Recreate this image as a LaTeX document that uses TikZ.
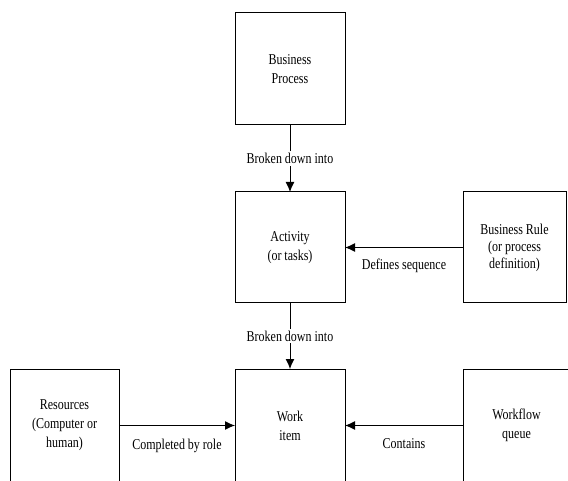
\documentclass[tikz,border=0pt]{standalone}
\usepackage{fontspec}
\setmainfont[FakeStretch=0.8]{Liberation Serif}
\usetikzlibrary{arrows.meta}
\begin{document}
\begin{tikzpicture}[x=1pt,y=-1pt]
% Styles
\tikzstyle{cadre}=[draw,line width=1pt,inner sep=0pt,outer sep=0pt,align=center,font=\fontsize{15}{19}\selectfont]
\tikzstyle{fleche}=[-{Latex[length=10pt,width=9pt]},line width=1pt]
\tikzstyle{etiquette}=[fill=white,inner sep=2pt,font=\fontsize{15}{19}\selectfont]
% Dimensions
\def\Lrg{110}
\def\Ht{112}
% Cadre de l'image
\useasboundingbox (0,0) rectangle (568,481);
% Colonne centrale
\node[cadre,minimum width=\Lrg,minimum height=\Ht] (process) at (290,69) {Business\\Process};
\node[cadre,minimum width=\Lrg,minimum height=111] (activity) at (290,247.5) {Activity\\(or tasks)};
\node[cadre,minimum width=\Lrg,minimum height=113] (work) at (290,425.5) {Work\\item};
% Colonnes laterales
\node[cadre,minimum width=103,minimum height=111,font=\fontsize{15}{17}\selectfont] (rule) at (514.5,247.5) {Business Rule\\(or process\\definition)};
\node[cadre,minimum width=109,minimum height=113] (resources) at (64.5,425.5) {Resources\\(Computer or\\human)};
\node[cadre,minimum width=107,minimum height=113] (queue) at (516.5,425.5) {Workflow\\queue};
% Fleches
\draw[fleche] (process) -- node[etiquette]{Broken down into} (activity);
\draw[fleche] (activity) -- node[etiquette]{Broken down into} (work);
\draw[fleche] (rule) -- node[etiquette,below=9pt]{Defines sequence} (activity);
\draw[fleche] (resources) -- node[etiquette,below=11pt]{Completed by role} (work);
\draw[fleche] (queue) -- node[etiquette,below=11pt]{Contains} (work);
\end{tikzpicture}
\end{document}
